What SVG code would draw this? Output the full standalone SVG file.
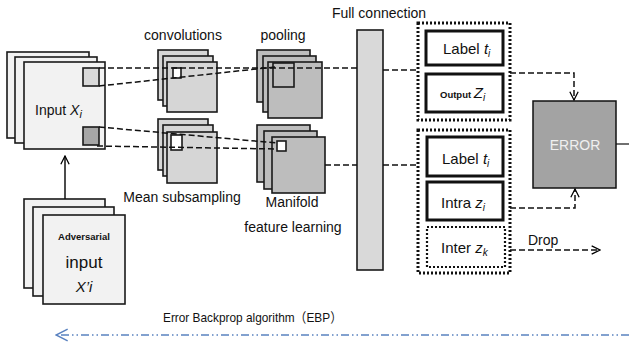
<svg xmlns="http://www.w3.org/2000/svg" width="629" height="344" viewBox="0 0 629 344">
<defs>
<marker id="chev" viewBox="0 0 12 12" refX="11" refY="6" markerWidth="10" markerHeight="10" markerUnits="userSpaceOnUse" orient="auto"><path d="M1,1 L11,6 L1,11" fill="none" stroke="#000" stroke-width="1.5"/></marker>
<marker id="chevb" viewBox="0 0 12 12" refX="11" refY="6" markerWidth="14" markerHeight="14" markerUnits="userSpaceOnUse" orient="auto"><path d="M1,1 L11,6 L1,11" fill="none" stroke="#5a82c0" stroke-width="1.3"/></marker>
</defs>
<style>
text{font-family:"Liberation Sans","Noto Sans CJK SC",sans-serif;fill:#111}
.fr{stroke:#1a1a1a;stroke-width:1.6}
.in{fill:#f2f2f2}
.cv{fill:#d6d6d6}
.pl{fill:#bdbdbd}
.dash{fill:none;stroke:#111;stroke-width:1.5;stroke-dasharray:6 3}
.grp{fill:none;stroke:#111;stroke-width:3;stroke-dasharray:2 2}
.box{fill:#fff;stroke:#111;stroke-width:3}
.lbl{font-size:14px}
.it{font-style:italic}
</style>
<rect width="629" height="344" fill="#fff"/>

<g id="input">
<rect class="fr in" x="7" y="52" width="82" height="86"/>
<rect class="fr in" x="15" y="57" width="82" height="86"/>
<rect class="fr in" x="24" y="62" width="81" height="87"/>
<rect class="fr" x="83" y="68" width="16" height="18" fill="#d9d9d9"/>
<rect class="fr" x="83" y="127" width="16" height="18" fill="#a6a6a6"/>
<text x="35" y="115" class="lbl" font-size="15">Input <tspan class="it">X</tspan><tspan class="it" font-size="11" dy="3">i</tspan></text>
</g>

<g id="adversarial">
<rect class="fr in" x="24" y="199" width="81" height="89"/>
<rect class="fr in" x="33" y="207" width="81" height="89"/>
<rect class="fr in" x="43" y="215" width="82" height="89"/>
<text x="84" y="240" text-anchor="middle" font-size="9.5" font-weight="bold">Adversarial</text>
<text x="84" y="268" text-anchor="middle" font-size="17">input</text>
<text x="84" y="292" text-anchor="middle" font-size="15" class="it">X’i</text>
</g>

<g id="convolutions">
<text x="183" y="40" text-anchor="middle" class="lbl">convolutions</text>
<rect class="fr cv" x="158" y="50" width="50" height="50"/>
<rect class="fr cv" x="163" y="56" width="50" height="50"/>
<rect class="fr cv" x="167" y="62" width="50" height="50"/>
<rect class="fr" x="173" y="68" width="8" height="10" fill="#fff"/>
</g>

<g id="pooling">
<text x="283" y="40" text-anchor="middle" class="lbl">pooling</text>
<rect class="fr pl" x="257" y="50" width="53" height="52"/>
<rect class="fr pl" x="263" y="56" width="53" height="56"/>
<rect class="fr pl" x="268" y="62" width="54" height="56"/>
<rect class="fr pl" x="273" y="63" width="21" height="24"/>
</g>

<g id="mean-subsampling">
<rect class="fr cv" x="158" y="119" width="50" height="51"/>
<rect class="fr cv" x="163" y="125" width="50" height="51"/>
<rect class="fr cv" x="167" y="132" width="50" height="51"/>
<rect class="fr" x="171" y="135" width="11" height="15" fill="#fff"/>
<text x="182" y="202" text-anchor="middle" class="lbl">Mean subsampling</text>
</g>

<g id="manifold">
<rect class="fr pl" x="257" y="125" width="53" height="57"/>
<rect class="fr pl" x="264" y="131" width="53" height="58"/>
<rect class="fr pl" x="272" y="137" width="53" height="56"/>
<rect class="fr" x="277" y="141" width="9" height="10" fill="#fff"/>
<text x="292" y="207" text-anchor="middle" class="lbl">Manifold</text>
<text x="293" y="232" text-anchor="middle" class="lbl">feature learning</text>
</g>

<g id="full-connection">
<text x="379" y="18" text-anchor="middle" class="lbl">Full connection</text>
<rect class="fr" x="357" y="30" width="26" height="240" fill="#d9d9d9"/>
</g>

<g id="output-group">
<rect class="grp" x="418" y="23" width="92" height="97"/>
<rect class="box" x="426" y="31" width="77" height="34"/>
<text x="443" y="54" font-size="15">Label <tspan class="it">t</tspan><tspan class="it" font-size="10" dy="3">i</tspan></text>
<rect class="box" x="426" y="74" width="77" height="38"/>
<text x="440" y="98" font-size="9.5" font-weight="bold">Output <tspan class="it" font-size="15" font-weight="normal">Z</tspan><tspan class="it" font-size="10" font-weight="normal" dy="3">i</tspan></text>
</g>

<g id="intra-group">
<rect class="grp" x="418" y="130" width="92" height="143"/>
<rect class="box" x="427" y="137" width="76" height="39"/>
<text x="442" y="164" font-size="15">Label <tspan class="it">t</tspan><tspan class="it" font-size="10" dy="3">i</tspan></text>
<rect class="box" x="427" y="182" width="76" height="38"/>
<text x="441" y="208" font-size="15">Intra <tspan class="it">z</tspan><tspan class="it" font-size="10" dy="3">i</tspan></text>
<rect x="427" y="227" width="78" height="40" fill="#fff" stroke="#111" stroke-width="2.2" stroke-dasharray="2 2"/>
<text x="441" y="253" font-size="15">Inter <tspan class="it">z</tspan><tspan class="it" font-size="10" dy="3">k</tspan></text>
</g>

<g id="error">
<rect x="533" y="101" width="83" height="87" fill="#a3a3a3" stroke="#111" stroke-width="1.5"/>
<text x="575" y="150" text-anchor="middle" font-size="14" style="fill:#f0f0f0">ERROR</text>
</g>

<g id="connectors">
<line class="dash" x1="99" y1="68" x2="357" y2="68"/>
<line class="dash" x1="99" y1="86" x2="275" y2="67"/>
<line class="dash" x1="99" y1="127" x2="277" y2="143"/>
<line class="dash" x1="97" y1="146" x2="277" y2="149"/>
<line class="dash" x1="325" y1="165" x2="357" y2="165"/>
<line class="dash" x1="383" y1="70" x2="418" y2="70"/>
<line class="dash" x1="383" y1="165" x2="418" y2="165"/>
<polyline class="dash" points="510,73 574,73 574,100" marker-end="url(#chev)" stroke-dasharray="4 2"/>
<polyline class="dash" points="510,208 575,208 575,189" marker-end="url(#chev)" stroke-dasharray="4 2"/>
<line class="dash" x1="510" y1="250" x2="600" y2="250" marker-end="url(#chev)" stroke-dasharray="7 4"/>
<line x1="65" y1="199" x2="65" y2="156" stroke="#111" stroke-width="1.5" marker-end="url(#chev)"/>
<line x1="616" y1="144" x2="629" y2="144" stroke="#111" stroke-width="1.2"/>
<line x1="629" y1="335" x2="56" y2="335" stroke="#5a82c0" stroke-width="1.3" stroke-dasharray="8 3 1.5 3 1.5 3" marker-end="url(#chevb)"/>
</g>

<text x="528" y="245" class="lbl">Drop</text>
<text x="163" y="322" font-size="13.5" textLength="179" lengthAdjust="spacingAndGlyphs">Error Backprop algorithm（EBP）</text>
</svg>
